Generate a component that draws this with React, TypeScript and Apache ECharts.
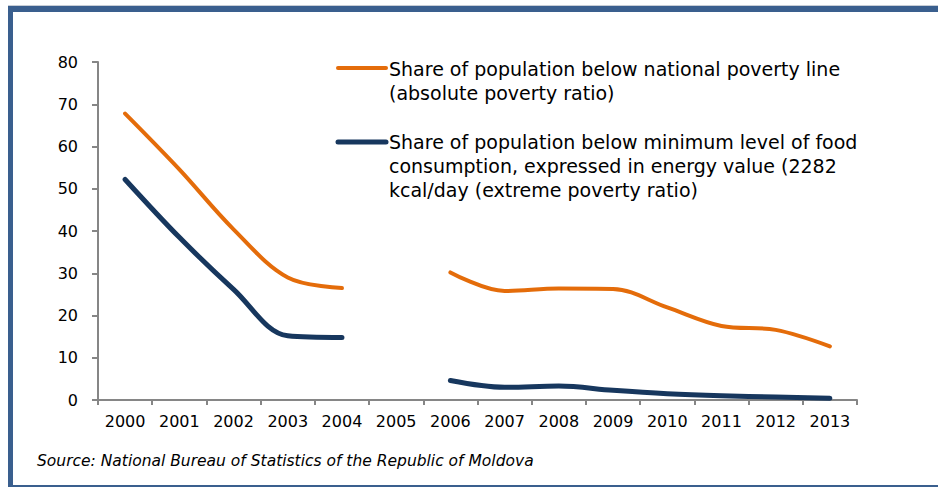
import React, { useEffect, useRef } from "react";
import * as echarts from "echarts";

const years = ["2000", "2001", "2002", "2003", "2004", "2005", "2006", "2007", "2008", "2009", "2010", "2011", "2012", "2013"];
const absolutePoverty = [67.8, 54.6, 40.4, 29.0, 26.5, null, 30.2, 25.8, 26.4, 26.3, 21.9, 17.5, 16.6, 12.7];
const extremePoverty = [52.2, 38.5, 26.2, 15.2, 14.8, null, 4.6, 3.0, 3.3, 2.3, 1.5, 1.0, 0.7, 0.4];
const yTicks = { min: 0, max: 80, interval: 10 };

const legend1 = ["Share of population below national poverty line", "(absolute poverty ratio)"];
const legend2 = [
  "Share of population below minimum level of food",
  "consumption, expressed in energy value (2282",
  "kcal/day (extreme poverty ratio)",
];
const sourceText = "Source: National Bureau of Statistics of the Republic of Moldova";

const ORANGE = "#E46C0A";
const NAVY = "#17375E";
const FRAME = "#3A5F8E";
const FONT = "'DejaVu Sans', sans-serif";

export default function App() {
  const ref = useRef<HTMLDivElement>(null);
  useEffect(() => {
    if (!ref.current) return;
    const chart = echarts.init(ref.current, null, { renderer: "svg" });
    const legendText = (lines: string[], x: number, y0: number) =>
      lines.map((t, i) => ({
        type: "text",
        x,
        y: y0 + i * 24,
        style: { text: t, font: `19px ${FONT}`, fill: "#000", verticalAlign: "middle", align: "left" },
      }));
    chart.setOption({
      animation: false,
      backgroundColor: "#fff",
      grid: { left: 98, right: 81, top: 62, bottom: 87, containLabel: false },
      xAxis: {
        type: "category",
        data: years,
        boundaryGap: true,
        axisLine: { lineStyle: { color: "#868686", width: 2 } },
        axisTick: { show: true, length: 5, lineStyle: { color: "#868686", width: 2 } },
        axisLabel: { color: "#000", fontSize: 16, fontFamily: FONT, margin: 13 },
      },
      yAxis: {
        type: "value",
        min: yTicks.min,
        max: yTicks.max,
        interval: yTicks.interval,
        splitLine: { show: false },
        axisLine: { show: true, lineStyle: { color: "#868686", width: 2 } },
        axisTick: { show: true, length: 6, lineStyle: { color: "#868686", width: 2 } },
        axisLabel: { color: "#000", fontSize: 16, fontFamily: FONT, margin: 20 },
      },
      series: [
        {
          name: "absolute",
          type: "line",
          data: absolutePoverty,
          smooth: 0.35,
          connectNulls: false,
          showSymbol: false,
          lineStyle: { color: ORANGE, width: 4, cap: "round", join: "round" },
          z: 3,
        },
        {
          name: "extreme",
          type: "line",
          data: extremePoverty,
          smooth: 0.35,
          connectNulls: false,
          showSymbol: false,
          lineStyle: { color: NAVY, width: 5, cap: "round", join: "round" },
          z: 4,
        },
      ],
      graphic: [
        { type: "rect", shape: { x: 8, y: 5, width: 930, height: 1 }, style: { fill: "#C8CED6" } },
        { type: "rect", shape: { x: 8, y: 6, width: 930, height: 6 }, style: { fill: FRAME } },
        { type: "rect", shape: { x: 8, y: 6, width: 5, height: 481 }, style: { fill: FRAME } },
        { type: "rect", shape: { x: 8, y: 485, width: 930, height: 2 }, style: { fill: FRAME } },
        {
          type: "line",
          shape: { x1: 338, y1: 68, x2: 386, y2: 68 },
          style: { stroke: ORANGE, lineWidth: 4, lineCap: "round" },
        },
        {
          type: "line",
          shape: { x1: 338, y1: 142, x2: 386, y2: 142 },
          style: { stroke: NAVY, lineWidth: 5, lineCap: "round" },
        },
        ...legendText(legend1, 389, 69),
        ...legendText(legend2, 389, 142),
        {
          type: "text",
          x: 37,
          y: 461,
          style: { text: sourceText, font: `italic 15.5px ${FONT}`, fill: "#000", verticalAlign: "middle", align: "left" },
        },
      ],
    });
    return () => chart.dispose();
  }, []);
  return <div ref={ref} style={{ position: "absolute", left: 0, top: 0, width: 938, height: 487 }} />;
}
